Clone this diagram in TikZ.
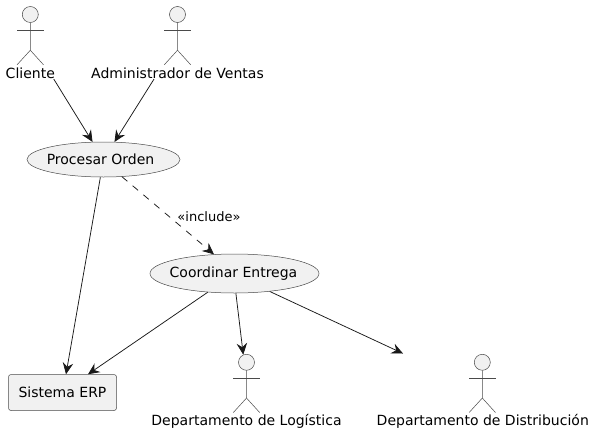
\documentclass[tikz,border=0pt]{standalone}
\usepackage{fontspec}
\setmainfont{DejaVu Sans}
\usetikzlibrary{arrows.meta,shapes.geometric}
\definecolor{umlfill}{HTML}{F1F1F1}
\definecolor{umlline}{HTML}{181818}
\definecolor{umlthin}{HTML}{4A4A4A}
\tikzset{
  usecase/.style={ellipse,draw=umlthin,fill=umlfill,line width=0.5pt,inner sep=0pt,font=\fontsize{14}{16}\selectfont},
  sysbox/.style={rectangle,rounded corners=2.5pt,draw=umlthin,fill=umlfill,line width=0.5pt,inner sep=0pt,font=\fontsize{14}{16}\selectfont},
  head/.style={circle,draw=umlthin,fill=umlfill,line width=0.5pt,minimum size=16pt,inner sep=0pt},
  limb/.style={draw=umlthin,line width=0.5pt},
  actorlabel/.style={inner sep=0pt,font=\fontsize{14}{16}\selectfont},
  conn/.style={draw=umlline,line width=0.75pt,-{Stealth[length=11.5pt,width=10.5pt,inset=4pt]}},
  dashconn/.style={conn,dash pattern=on 7pt off 7pt},
  edgelabel/.style={inner sep=0pt,font=\fontsize{13}{15}\selectfont}
}
\begin{document}
\begin{tikzpicture}[x=1pt,y=-1pt]
\useasboundingbox (0,0) rectangle (594,434);
\node[head] (cl) at (30.3,14.5) {};
\node[head] (ad) at (177.5,14.5) {};
\node[head] (lo) at (246.5,362.3) {};
\node[head] (di) at (482.3,362.3) {};
\foreach \n in {cl,ad,lo,di}{
  \path[limb] (\n.south) -- ++(0,27.5) -- ++(-13.2,14.5);
  \path[limb] (\n.south) ++(0,27.5) -- ++(13.2,14.5);
  \path[limb] (\n.center) ++(-13.2,16) -- ++(26.4,0);
}
\node[actorlabel] (cll) at (30.3,73.5) {Cliente};
\node[actorlabel] (adl) at (177.5,73.5) {Administrador de Ventas};
\node[actorlabel] (lol) at (246.5,421.5) {Departamento de Logística};
\node[actorlabel] (dil) at (482.8,421.5) {Departamento de Distribución};
\node[usecase,minimum width=153pt,minimum height=35pt] (po) at (103.5,159.5) {\makebox[0pt]{\hspace*{-6pt}Procesar Orden}};
\node[usecase,minimum width=169pt,minimum height=39pt] (co) at (234.5,273.5) {\makebox[0pt]{\hspace*{-2pt}Coordinar Entrega}};
\node[sysbox,minimum width=108pt,minimum height=36pt] (erp) at (62.5,392.5) {Sistema ERP};
\coordinate (free) at (403,353.5);
\path[conn] ([xshift=23.5pt]cll.south) -- (po.122);
\path[conn] ([xshift=-23.5pt]adl.south) -- (po.58);
\path[conn] (po.260) -- ([xshift=3.5pt]erp.north);
\path[dashconn] (po.317.4) -- (co.137.3);
\path[conn] (co.215.5) -- ([xshift=25.5pt]erp.north);
\path[conn] (co.274.4) -- (lo.113);
\path[conn] (co.333.5) -- (free);
\node[edgelabel] (inc) at (209,217) {«include»};
\end{tikzpicture}
\end{document}
